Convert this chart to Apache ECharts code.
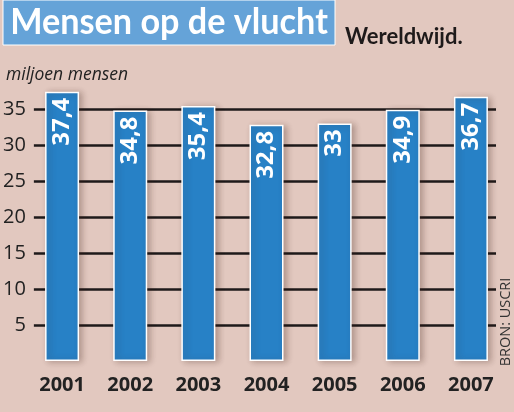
<!DOCTYPE html>
<html>
<head>
<meta charset="utf-8">
<script src="https://cdn.jsdelivr.net/npm/echarts@6/dist/echarts.min.js"></script>
<style>
  html, body { margin: 0; padding: 0; background: #e2c8bf; }
  #chart { width: 514px; height: 412px; }
</style>
</head>
<body>
<div id="chart"></div>
<script>
// jaren en aantallen (miljoen mensen)
var years = ["2001", "2002", "2003", "2004", "2005", "2006", "2007"];
var refugees = [37.4, 34.8, 35.4, 32.8, 33, 34.9, 36.7];
var yTicks = [5, 10, 15, 20, 25, 30, 35];

var myChart = echarts.init(document.getElementById("chart"));
var font = "'Open Sans', 'Noto Sans', sans-serif";

var option = {
  backgroundColor: "#e2c8bf",
  animation: false,
  graphic: [
    {
      type: "rect",
      shape: { x: 3, y: 0, width: 332, height: 45 },
      style: { fill: "#65a3d8", stroke: "#fff", lineWidth: 1 }
    },
    {
      type: "text",
      x: 169, y: 22,
      scaleX: 0.95,
      style: {
        text: "Mensen op de vlucht",
        fill: "#fff",
        font: "bold 36px Lato, 'Open Sans', sans-serif",
        align: "center",
        verticalAlign: "middle"
      }
    },
    {
      type: "text",
      x: 345, y: 37,
      style: {
        text: "Wereldwijd.",
        fill: "#1e1a1a",
        font: "bold 22px Lato, 'Open Sans', sans-serif",
        verticalAlign: "middle"
      }
    },
    {
      type: "text",
      x: 6, y: 75,
      style: {
        text: "miljoen mensen",
        fill: "#222",
        font: "italic 17.5px 'Open Sans', sans-serif",
        verticalAlign: "middle"
      }
    },
    {
      type: "text",
      x: 506, y: 322,
      rotation: Math.PI / 2,
      style: {
        text: "BRON: USCRI",
        fill: "#333",
        font: "14.5px 'Open Sans', sans-serif",
        align: "center",
        verticalAlign: "middle"
      }
    }
  ],
  grid: [
    { left: 33, right: 18, top: 73, bottom: 51 },
    { left: 28, right: 9, top: 73, bottom: 51 }
  ],
  xAxis: [
    { type: "category", gridIndex: 0, data: years, show: false },
    {
      type: "category",
      gridIndex: 1,
      data: years,
      axisLine: { show: false },
      axisTick: { show: false },
      axisLabel: {
        color: "#222",
        fontFamily: font,
        fontWeight: "bold",
        fontSize: 20,
        margin: 14
      }
    }
  ],
  yAxis: [
    {
      type: "value",
      gridIndex: 0,
      min: 0,
      max: 40,
      interval: 5,
      axisLine: { show: false },
      axisTick: { show: false },
      axisLabel: {
        color: "#222",
        fontFamily: font,
        fontSize: 20,
        margin: 8,
        formatter: function (v) {
          return yTicks.indexOf(v) >= 0 ? String(v) : "";
        }
      },
      splitLine: {
        show: true,
        lineStyle: {
          color: ["transparent", "#1e1a1a", "#1e1a1a", "#1e1a1a", "#1e1a1a", "#1e1a1a", "#1e1a1a", "#1e1a1a", "transparent"],
          width: 2.5
        }
      }
    },
    {
      type: "value",
      gridIndex: 1,
      min: 0,
      max: 40,
      interval: 5,
      show: false,
      splitLine: { show: false }
    }
  ],
  series: [
    {
      type: "bar",
      xAxisIndex: 1,
      yAxisIndex: 1,
      data: refugees,
      barWidth: 34,
      itemStyle: {
        color: "#2781c6",
        borderColor: "#fff",
        borderWidth: 1.5,
        shadowColor: "rgba(60,30,20,0.3)",
        shadowBlur: 6,
        shadowOffsetX: 3,
        shadowOffsetY: 1
      },
      label: {
        show: true,
        position: "insideTop",
        distance: 6,
        rotate: 90,
        align: "right",
        verticalAlign: "middle",
        color: "#fff",
        fontFamily: font,
        fontWeight: "bold",
        fontSize: 24,
        formatter: function (p) {
          return String(p.value).replace(".", ",");
        }
      }
    }
  ]
};

myChart.setOption(option);
</script>
</body>
</html>
